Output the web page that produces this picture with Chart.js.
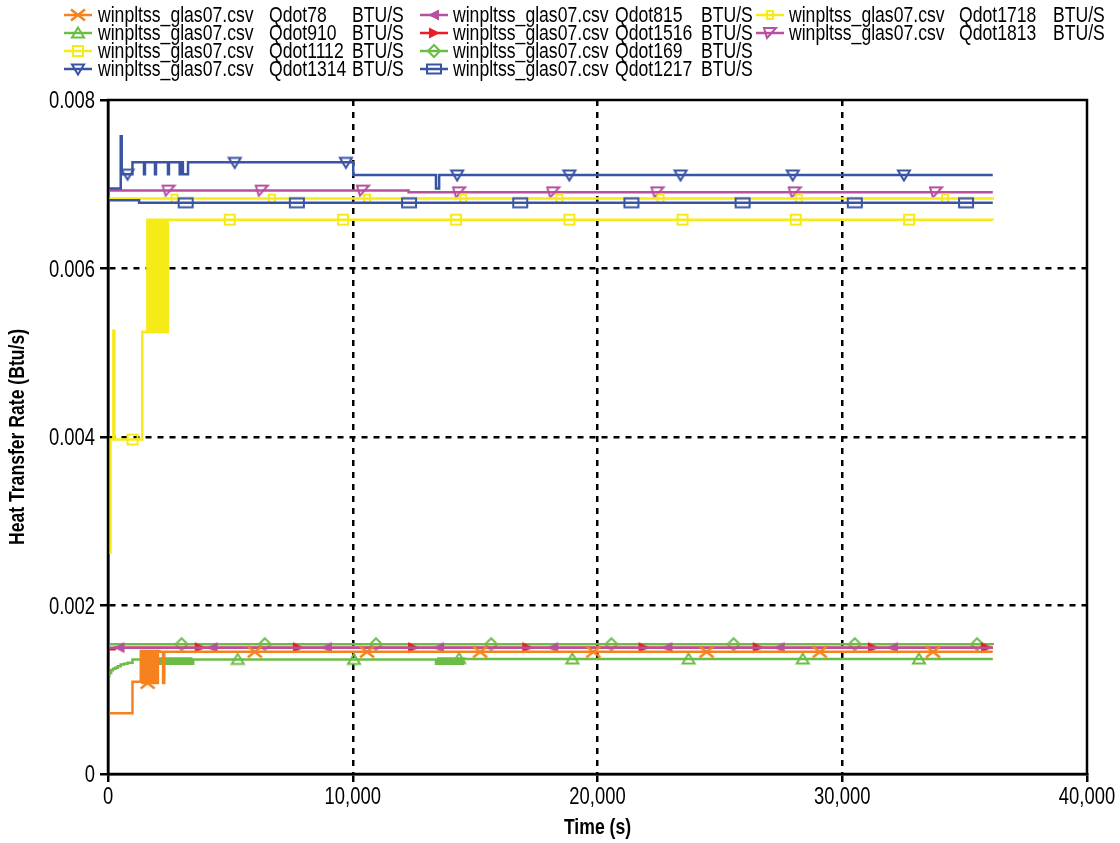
<!DOCTYPE html>
<html>
<head>
<meta charset="utf-8">
<title>winpltss_glas07 heat transfer</title>
<script src="https://cdn.jsdelivr.net/npm/chart.js@4.4.1/dist/chart.umd.min.js"></script>
<style>
  html, body { margin: 0; padding: 0; background: #fff; }
</style>
</head>
<body>
<canvas id="heatChart" width="1120" height="843"></canvas>
<script>
// ---- values ----
const xTickValues = [0, 10000, 20000, 30000, 40000];
const xTickLabels = ['0', '10,000', '20,000', '30,000', '40,000'];
const yTickValues = [0, 0.002, 0.004, 0.006, 0.008];
const yTickLabels = ['0', '0.002', '0.004', '0.006', '0.008'];
const xTitle = 'Time (s)';
const yTitle = 'Heat Transfer Rate (Btu/s)';

const fileName = 'winpltss_glas07.csv';
const unitLabel = 'BTU/S';
const seriesNames = ['Qdot78', 'Qdot910', 'Qdot1112', 'Qdot1314', 'Qdot815',
                     'Qdot1516', 'Qdot169', 'Qdot1217', 'Qdot1718', 'Qdot1813'];

// step times (s) / values (Btu/s) - each value holds until the next time
const t78 = [0, 1000, 1340, 1410, 1480, 1550, 1620, 1690, 1760, 1830, 1900, 1970, 2040, 2090, 2250, 2300, 36150];
const v78 = [0.00072, 0.001096, 0.00146, 0.00108, 0.00146, 0.00108, 0.00146, 0.00108, 0.00146, 0.00108,
             0.00146, 0.00108, 0.00146, 0.00145, 0.00108, 0.00145, 0.00145];

const t910 = [0, 60, 130, 200, 300, 400, 520, 650, 800, 1000,
              2000, 2100, 2200, 2300, 2400, 2500, 2600, 2700, 2800, 2900, 3000, 3100, 3200, 3300, 3400, 3480,
              13400, 13500, 13600, 13700, 13800, 13900, 14000, 14100, 14200, 14300, 14400, 14500, 14560, 36150];
const v910 = [0.00117, 0.0012, 0.00123, 0.00125, 0.00126, 0.00128, 0.0013, 0.00131, 0.00132, 0.00136,
              0.00131, 0.00137, 0.00131, 0.00137, 0.00131, 0.00137, 0.00131, 0.00137, 0.00131, 0.00137,
              0.00131, 0.00137, 0.00131, 0.00137, 0.00131, 0.00136,
              0.00131, 0.00137, 0.00131, 0.00137, 0.00131, 0.00137, 0.00131, 0.00137, 0.00131, 0.00137,
              0.00131, 0.00137, 0.001365, 0.001365];

const t1112 = [0, 100, 220, 260, 1400, 1610, 1680, 1750, 1820, 1890, 1960, 2030, 2100, 2170, 2240, 2310, 2380, 2440, 36150];
const v1112 = [0.00263, 0.00397, 0.00526, 0.00397, 0.00525, 0.00658, 0.00525, 0.00658, 0.00525, 0.00658,
               0.00525, 0.00658, 0.00525, 0.00658, 0.00525, 0.00658, 0.00525, 0.00658, 0.006575];

const t1314 = [0, 520, 560, 1000, 1470, 1510, 1920, 1960, 2450, 2490, 2930, 2970, 3060, 3270, 10020, 13400, 13530, 36150];
const v1314 = [0.00695, 0.00757, 0.00712, 0.00726, 0.00712, 0.00726, 0.00712, 0.00726, 0.00712, 0.00726,
               0.00712, 0.00726, 0.00712, 0.00726, 0.00711, 0.00695, 0.00711, 0.00711];

const t815 = [0, 36150];
const v815 = [0.0015, 0.0015];

const t1516 = [0, 270, 36150];
const v1516 = [0.00148, 0.0015, 0.0015];

const t169 = [0, 36150];
const v169 = [0.00154, 0.00153];

const t1217 = [0, 1270, 36150];
const v1217 = [0.00681, 0.00678, 0.00678];

const t1718 = [0, 36150];
const v1718 = [0.00683, 0.00682];

const t1813 = [0, 12280, 36150];
const v1813 = [0.006925, 0.006904, 0.006904];

// times (s) where a marker symbol sits on each curve
const mk78 = [1617, 5996, 10581, 15206, 19831, 24456, 29081, 33706];
const mk910 = [5300, 10049, 14346, 18971, 23719, 28385, 33133];
const mk1112 = [1003, 4973, 9598, 14223, 18849, 23474, 28099, 32725];
const mk1314 = [798, 5178, 9721, 14265, 18849, 23392, 27977, 32520];
const mk815 = [471, 4277, 8943, 13527, 18194, 22860, 27444, 32070];
const mk1516 = [3745, 7756, 12463, 17129, 21877, 26543, 31249, 35875];
const mk169 = [3008, 6406, 10949, 15656, 20567, 25561, 30513, 35507];
const mk1217 = [3172, 7715, 12299, 16842, 21386, 25929, 30513, 35057];
const mk1718 = [2722, 6692, 10581, 14510, 18440, 22573, 28222, 34198];
const mk1813 = [2476, 6283, 10417, 14346, 18194, 22450, 28058, 33829];

const stepTimes = [t78, t910, t1112, t1314, t815, t1516, t169, t1217, t1718, t1813];
const stepValues = [v78, v910, v1112, v1314, v815, v1516, v169, v1217, v1718, v1813];
const markTimes = [mk78, mk910, mk1112, mk1314, mk815, mk1516, mk169, mk1217, mk1718, mk1813];

// ---- styling ----
const FONT = '"Liberation Sans", Arial, sans-serif';
const SQUEEZE = 0.8; // reference text is a narrow face
const C = { orange: '#f5821f', green: '#6cbd45', yellow: '#f6eb16', blue: '#3a54a4', magenta: '#b7509e', red: '#ec1c24' };
const seriesStyle = [
    { color: C.orange, marker: 'cross' },
    { color: C.green, marker: 'triUp' },
    { color: C.yellow, marker: 'square' },
    { color: C.blue, marker: 'triDown' },
    { color: C.magenta, marker: 'triLeft' },
    { color: C.red, marker: 'triRight' },
    { color: C.green, marker: 'diamond' },
    { color: C.blue, marker: 'rect' },
    { color: C.yellow, marker: 'smallSquare' },
    { color: C.magenta, marker: 'triSkew' }
];

function makeMarker(kind, color) {
    const c = document.createElement('canvas');
    c.width = 20; c.height = 20;
    const g = c.getContext('2d');
    g.strokeStyle = color; g.fillStyle = color; g.lineWidth = 2;
    g.translate(10, 10);
    g.beginPath();
    switch (kind) {
        case 'cross': g.lineWidth = 2.5; g.moveTo(-7, -5.5); g.lineTo(7, 5.5); g.moveTo(7, -5.5); g.lineTo(-7, 5.5); g.stroke(); break;
        case 'triUp': g.moveTo(0, -5.5); g.lineTo(6, 4.5); g.lineTo(-6, 4.5); g.closePath(); g.stroke(); break;
        case 'triDown': g.moveTo(-6, -4.5); g.lineTo(6, -4.5); g.lineTo(0, 5.5); g.closePath(); g.stroke(); break;
        case 'triLeft': g.moveTo(-6, 0); g.lineTo(5, -5.5); g.lineTo(5, 5.5); g.closePath(); g.fill(); break;
        case 'triRight': g.moveTo(6, 0); g.lineTo(-5, -5.5); g.lineTo(-5, 5.5); g.closePath(); g.fill(); break;
        case 'diamond': g.moveTo(0, -6); g.lineTo(6, 0); g.lineTo(0, 6); g.lineTo(-6, 0); g.closePath(); g.stroke(); break;
        case 'square': g.rect(-5, -5, 10, 10); g.stroke(); break;
        case 'smallSquare': g.rect(-3, -4, 6, 8); g.stroke(); break;
        case 'rect': g.rect(-7, -4.5, 14, 9); g.stroke(); break;
        case 'triSkew': g.moveTo(-6, -5); g.lineTo(6, -5); g.lineTo(-3, 5); g.closePath(); g.stroke(); break;
    }
    return c;
}

function valueAt(ts, vs, t) {
    let v = vs[0];
    for (let i = 0; i < ts.length; i++) if (ts[i] <= t) v = vs[i];
    return v;
}

function buildData(i) {
    const pts = stepTimes[i].map((t, k) => ({ x: t, y: stepValues[i][k] }));
    markTimes[i].forEach(t => pts.push({ x: t, y: valueAt(stepTimes[i], stepValues[i], t), m: true }));
    pts.sort((a, b) => (a.x - b.x) || ((a.m ? 1 : 0) - (b.m ? 1 : 0)));
    return pts;
}

const markers = seriesStyle.map(s => makeMarker(s.marker, s.color));

const datasets = seriesNames.map((name, i) => ({
    label: fileName + ' ' + name + ' ' + unitLabel,
    data: buildData(i),
    borderColor: seriesStyle[i].color,
    backgroundColor: seriesStyle[i].color,
    borderWidth: 2.5,
    stepped: true,
    fill: false,
    pointStyle: markers[i],
    pointRadius: ctx => (ctx.raw && ctx.raw.m ? 6 : 0),
    pointHoverRadius: 0,
    pointHitRadius: 0
}));

// narrow text: Liberation Sans squeezed horizontally
function narrowText(ctx, text, x, y, align, rot) {
    ctx.save();
    ctx.translate(x, y);
    if (rot) ctx.rotate(rot);
    ctx.scale(SQUEEZE, 1);
    ctx.textAlign = align;
    ctx.textBaseline = 'middle';
    ctx.fillText(text, 0, 0);
    ctx.restore();
}

// 3-column legend drawn in the top margin, filled column by column
const legendIconX = [64, 420, 756];
const legendTextX = [98, 453, 789];
const legendQdotX = [269, 615, 959];
const legendUnitX = [352, 701, 1053];
const legendRowY = [15, 33, 51, 69];

const legendPlugin = {
    id: 'glasLegend',
    afterDraw(chart) {
        const ctx = chart.ctx;
        ctx.save();
        ctx.font = '22px ' + FONT;
        seriesNames.forEach((name, i) => {
            const col = Math.floor(i / 4), row = i % 4;
            const y = legendRowY[row], x0 = legendIconX[col];
            ctx.strokeStyle = seriesStyle[i].color;
            ctx.lineWidth = 2.5;
            ctx.beginPath();
            ctx.moveTo(x0, y); ctx.lineTo(x0 + 28, y);
            ctx.stroke();
            ctx.drawImage(markers[i], x0 + 4, y - 10);
            ctx.fillStyle = '#000';
            narrowText(ctx, fileName, legendTextX[col], y + 1, 'left');
            narrowText(ctx, name, legendQdotX[col], y + 1, 'left');
            narrowText(ctx, unitLabel, legendUnitX[col], y + 1, 'left');
        });
        ctx.restore();
    }
};

// solid frame round the plot area, tick labels and axis titles in the narrow face
const axisTextPlugin = {
    id: 'plotFrame',
    afterDraw(chart) {
        const { left, top, right, bottom } = chart.chartArea;
        const xs = chart.scales.x, ys = chart.scales.y;
        const ctx = chart.ctx;
        ctx.save();
        ctx.strokeStyle = '#000';
        ctx.lineWidth = 2.5;
        ctx.strokeRect(left, top, right - left, bottom - top);
        ctx.fillStyle = '#000';
        ctx.font = '23px ' + FONT;
        xTickValues.forEach((v, i) => narrowText(ctx, xTickLabels[i], xs.getPixelForValue(v), bottom + 24, 'center'));
        yTickValues.forEach((v, i) => narrowText(ctx, yTickLabels[i], left - 13, ys.getPixelForValue(v) + 2, 'right'));
        ctx.font = 'bold 22px ' + FONT;
        narrowText(ctx, xTitle, (left + right) / 2, 828, 'center');
        narrowText(ctx, yTitle, 18, (top + bottom) / 2, 'center', -Math.PI / 2);
        ctx.restore();
    }
};

Chart.defaults.font.family = FONT;
Chart.defaults.color = '#000';

const edgeGrid = (vals) => (c) => (c.tick && (c.tick.value === vals[0] || c.tick.value === vals[vals.length - 1]) ? 'rgba(0,0,0,0)' : '#000');

new Chart(document.getElementById('heatChart'), {
    type: 'line',
    data: { datasets },
    options: {
        responsive: false,
        animation: false,
        devicePixelRatio: 1,
        layout: { padding: { top: 100, right: 33, left: 0, bottom: 0 } },
        plugins: { legend: { display: false }, tooltip: { enabled: false } },
        scales: {
            x: {
                type: 'linear', min: 0, max: 40000,
                afterBuildTicks: s => { s.ticks = xTickValues.map(v => ({ value: v })); },
                afterFit: s => { s.height = 69; },
                ticks: { display: false },
                grid: { color: edgeGrid(xTickValues), lineWidth: 2.5, tickLength: 8, tickWidth: 2.5, tickColor: '#000' },
                border: { display: true, color: '#000', width: 2.5, dash: [6, 6] }
            },
            y: {
                type: 'linear', min: 0, max: 0.008,
                afterBuildTicks: s => { s.ticks = yTickValues.map(v => ({ value: v })); },
                afterFit: s => { s.width = 108; },
                ticks: { display: false },
                grid: { color: edgeGrid(yTickValues), lineWidth: 2.5, tickLength: 8, tickWidth: 2.5, tickColor: '#000' },
                border: { display: true, color: '#000', width: 2.5, dash: [6, 6] }
            }
        }
    },
    plugins: [axisTextPlugin, legendPlugin]
});
</script>
</body>
</html>
